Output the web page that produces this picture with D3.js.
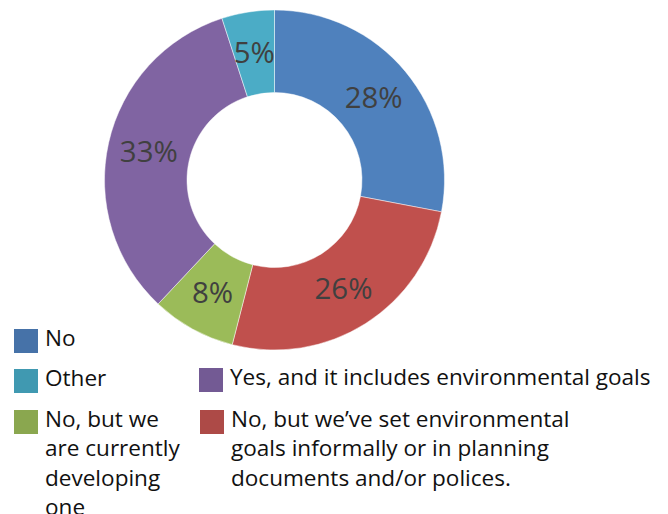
<!DOCTYPE html>
<html><head><meta charset="utf-8">
<script src="https://cdn.jsdelivr.net/npm/d3@7/dist/d3.min.js"></script>
<style>html,body{margin:0;padding:0;background:#fff;}</style>
</head><body>
<svg id="chart" width="668" height="514"></svg>
<script>
// Data
const categories = ["No", "No, but we’ve set environmental goals informally or in planning documents and/or polices.", "No, but we are currently developing one", "Yes, and it includes environmental goals", "Other"];
const values = [28, 26, 8, 33, 5];
const sliceColors = ["#4F81BD", "#C0504D", "#9BBB59", "#8064A2", "#4BACC6"];
const legendColors = ["#4672A8", "#AD4A47", "#8AA74F", "#735A94", "#4099B1"];
// legend entries (index into categories) with wrapped lines
const legendItems = [
  {idx: 0, lines: ["No"]},
  {idx: 4, lines: ["Other"]},
  {idx: 3, lines: ["Yes, and it includes environmental goals"]},
  {idx: 2, lines: ["No, but we", "are currently", "developing", "one"]},
  {idx: 1, lines: ["No, but we’ve set environmental", "goals informally or in planning", "documents and/or polices."]}
];

const svg = d3.select("#chart");
const cx = 274.5, cy = 180, rOuter = 170, rInner = 87.5;
const FONT = "'Open Sans', 'Noto Sans', sans-serif";

const pie = d3.pie().sort(null).value(d => d);
const arc = d3.arc().innerRadius(rInner).outerRadius(rOuter);
const arcs = pie(values);

const g = svg.append("g").attr("transform", `translate(${cx},${cy})`);
g.selectAll("path").data(arcs).join("path")
  .attr("d", arc)
  .attr("fill", (d, i) => sliceColors[i])
  .attr("stroke", "#ffffff")
  .attr("stroke-opacity", 0.6)
  .attr("stroke-width", 0.8);

const labels = g.selectAll("text.lbl").data(arcs).join("text")
  .attr("class", "lbl")
  .attr("transform", d => { const c = arc.centroid(d); return `translate(${c[0]},${c[1]})`; })
  .attr("text-anchor", "middle")
  .attr("dy", "0.36em")
  .attr("font-family", FONT)
  .attr("font-size", 29)
  .attr("fill", "#404040")
  .text(d => d.data + "%");
// fit label width to reference ("28%" ~58px wide)
const w0 = labels.nodes()[0].getComputedTextLength();
const sx = 58 / w0;
labels.attr("transform", d => { const c = arc.centroid(d); return `translate(${c[0]},${c[1]}) scale(${sx},1)`; });

// Legend
const pos = [
  {x: 14, y: 329},
  {x: 14, y: 369},
  {x: 199, y: 368},
  {x: 14, y: 410},
  {x: 200, y: 410}
];
const lineH = 29.5;
const leg = svg.append("g");
const texts = [];
legendItems.forEach((it, k) => {
  const p = pos[k];
  leg.append("rect").attr("x", p.x).attr("y", p.y).attr("width", 24).attr("height", 24)
    .attr("fill", legendColors[it.idx]);
  const t = leg.append("text")
    .attr("font-family", FONT).attr("font-size", 22).attr("fill", "#111111");
  it.lines.forEach((ln, j) => {
    t.append("tspan").attr("x", p.x + 31).attr("y", p.y + 17 + j * lineH).text(ln);
  });
  texts.push({t, x: p.x + 31});
});
// fit legend text width: "Yes, and it includes environmental goals" spans ~421px
const yesNode = texts[2].t.node();
const ratio = 421 / yesNode.getComputedTextLength();
texts.forEach(o => o.t.attr("transform", `translate(${o.x},0) scale(${ratio},1) translate(${-o.x},0)`));
</script>
</body></html>
